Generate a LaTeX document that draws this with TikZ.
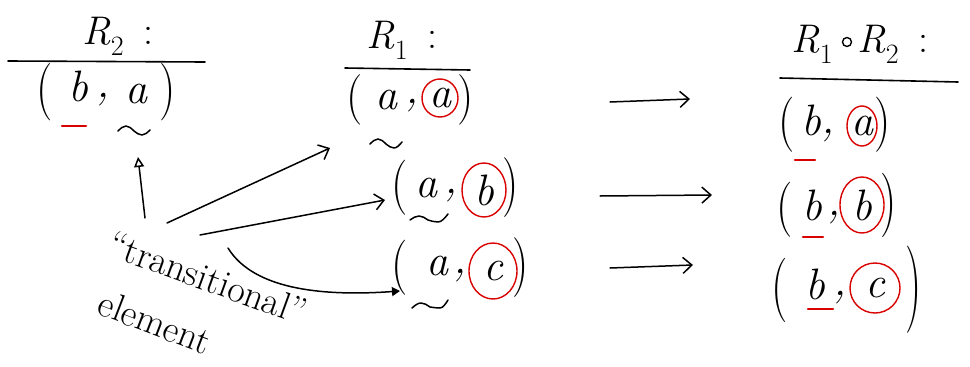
\documentclass[tikz,border=0pt]{standalone}
\usetikzlibrary{arrows.meta,shapes.geometric}
\newcommand{\subtwo}[1]{\raisebox{-0.28em}{\fontsize{28}{28}\selectfont #1}}
\begin{document}
\begin{tikzpicture}[x=1pt,y=-1pt, line width=1.6pt, line cap=round, line join=round,
  lbl/.style={font=\fontsize{44}{44}\selectfont\itshape, inner sep=0pt},
  hd/.style={font=\fontsize{40}{40}\selectfont, inner sep=0pt},
  par/.style={font=\fontsize{46}{46}\selectfont, inner sep=0pt},
  rc/.style={draw=red!85!black, ellipse, line width=1.4pt, inner sep=0pt},
  ul/.style={draw=red!85!black, line width=2.6pt},
  tl/.style={line width=1.5pt},
  conn/.style={-{Straight Barb[length=9pt,width=16pt]}, line width=1.5pt},
  upconn/.style={-{Triangle[open,length=10pt,width=10pt]}, line width=1.5pt},
  curvconn/.style={-{Triangle[length=8pt,width=9pt]}, line width=1.5pt},
  tx/.style={font=\fontsize{38}{38}\selectfont, inner sep=0pt}
]
\useasboundingbox (0,0) rectangle (970,367);

% ---------- R2 ----------
\node[hd] (r2) at (118,36) {\textit{R}\subtwo{2}\enspace:};
\draw (8,61) -- (205,62);
\node[par] (balp) at (45,92) {\scalebox{1}[1.25]{(}};
\node[lbl] (bab) at (78,86) {b};
\node[lbl] (bac) at (103,100) {,};
\node[lbl] (baa) at (136,94) {a};
\node[par] (barp) at (168,92) {\scalebox{1}[1.25]{)}};
\draw[ul] (62,126) -- (86,126);
\draw[tl] (118,131) sin (126,126) cos (134,131) sin (142,135) cos (150,130);

% ---------- R1 ----------
\node[hd] (r1) at (402,40) {\textit{R}\subtwo{1}\enspace:};
\draw (345,68) -- (470,70);
% (a,a)
\node[par] (aalp) at (355,100) {\scalebox{1}[1.1]{(}};
\node[lbl] (aa1) at (386,100) {a};
\node[lbl] (aac) at (412,106) {,};
\node[lbl] (aa2) at (440,98) {a};
\node[rc, minimum width=36pt, minimum height=38pt] (aa2c) at (aa2) {};
\node[par] (aarp) at (466,100) {\scalebox{1}[1.1]{)}};
\draw[tl] (370,144) sin (378,139) cos (386,144) sin (394,148) cos (402,142);
% (a,b)
\node[par] (ablp) at (400,188) {\scalebox{1}[1.2]{(}};
\node[lbl] (ab1) at (426,188) {a};
\node[lbl] (abc) at (451,196) {,};
\node[lbl] (ab2) at (484,190) {b};
\node[rc, minimum width=44pt, minimum height=54pt] (ab2c) at (ab2) {};
\node[par] (abrp) at (511,188) {\scalebox{1}[1.3]{)}};
\draw[tl] (410,220) sin (419,216) cos (428,220) sin (438,222) cos (448,214);
% (a,c)
\node[par] (aclp) at (400,268) {\scalebox{1}[1.2]{(}};
\node[lbl] (ac1) at (437,266) {a};
\node[lbl] (acc) at (460,276) {,};
\node[lbl] (ac2) at (493,271) {c};
\node[rc, minimum width=48pt, minimum height=56pt] (ac2c) at (ac2) {};
\node[par] (acrp) at (521,268) {\scalebox{1}[1.3]{)}};
\draw[tl] (412,308) sin (421,303) cos (430,307) sin (440,308) cos (448,300);

% ---------- R1 o R2 ----------
\node[hd] (r12a) at (812,44) {\textit{R}\subtwo{1}};
\node[circle, draw, line width=1.4pt, minimum size=9pt, inner sep=0pt] (comp) at (847,42) {};
\node[hd] (r12b) at (893,44) {\textit{R}\subtwo{2}\enspace:};
\draw (780,78) -- (958,82);
% (b,a)
\node[par] (calp) at (787,125) {\scalebox{1}[1.2]{(}};
\node[lbl] (ca1) at (811,120) {b};
\node[lbl] (cac) at (828,136) {,};
\node[lbl] (ca2) at (862,126) {a};
\node[rc, minimum width=30pt, minimum height=40pt] (ca2c) at (ca2) {};
\node[par] (carp) at (883,125) {\scalebox{1}[1.2]{)}};
\draw[ul] (795,160) -- (815,160);
% (b,b)
\node[par] (cblp) at (785,210) {\scalebox{1}[1.2]{(}};
\node[lbl] (cb1) at (812,205) {b};
\node[lbl] (cbc) at (834,218) {,};
\node[lbl] (cb2) at (862,205) {b};
\node[rc, minimum width=44pt, minimum height=56pt] (cb2c) at (cb2) {};
\node[par] (cbrp) at (889,205) {\scalebox{1}[1.4]{)}};
\draw[ul] (803,237) -- (823,237);
% (b,c)
\node[par] (cclp) at (780,290) {\scalebox{1}[1.4]{(}};
\node[lbl] (cc1) at (815,284) {b};
\node[lbl] (ccc) at (840,298) {,};
\node[lbl] (cc2) at (875,288) {c};
\node[rc, minimum width=50pt, minimum height=50pt] (cc2c) at (cc2) {};
\node[par] (ccrp) at (914,290) {\scalebox{1}[1.9]{)}};
\draw[ul] (808,309) -- (833,309);

% ---------- middle arrows ----------
\coordinate (m1s) at (610,102); \coordinate (m1e) at (690,99);
\coordinate (m2s) at (600,196); \coordinate (m2e) at (712,195);
\coordinate (m3s) at (610,268); \coordinate (m3e) at (693,265);
\draw[conn] (m1s) -- (m1e);
\draw[conn] (m2s) -- (m2e);
\draw[conn] (m3s) -- (m3e);

% ---------- transitional element ----------
\node[tx, rotate=-20] (tr) at (208,278) {``transitional''};
\node[tx, rotate=-21] (el) at (155,322) {element};

\coordinate (t0) at (145,218); \coordinate (t0e) at (138,157);
\coordinate (t1) at (167,223); \coordinate (t1e) at (330,148);
\coordinate (t2) at (200,235); \coordinate (t2e) at (385,200);
\coordinate (t3) at (228,248); \coordinate (t3e) at (400,291);
\draw[upconn] (t0) -- (t0e);
\draw[conn] (t1) -- (t1e);
\draw[conn] (t2) -- (t2e);
\draw[curvconn] (t3) .. controls (255,292) and (330,296) .. (t3e);
\end{tikzpicture}
\end{document}
